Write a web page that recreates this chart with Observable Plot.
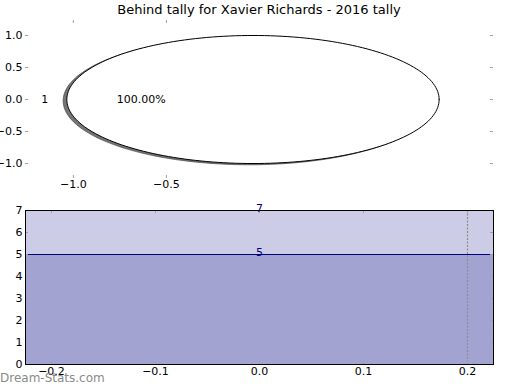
<!DOCTYPE html>
<html>
<head>
<meta charset="utf-8">
<script src="https://cdn.jsdelivr.net/npm/d3@7"></script>
<script src="https://cdn.jsdelivr.net/npm/@observablehq/plot@0.6"></script>
<style>
  body { margin: 0; background: white; }
  #wrap { position: relative; width: 520px; height: 390px; font-family: "DejaVu Sans", sans-serif; overflow: hidden; }
  #wrap svg { position: absolute; left: 0; background: transparent; }
  #title { position: absolute; left: 0; top: 2px; width: 518px; text-align: center; font-size: 13px; color: #000; z-index: 2; }
  #mark { position: absolute; left: 0; top: 371px; font-size: 12px; color: #8a8a8a; z-index: 2; }
</style>
</head>
<body>
<div id="wrap">
  <div id="title"></div>
  <div id="mark"></div>
</div>
<script>
// ---- data ----
const chartTitle = "Behind tally for Xavier Richards - 2016 tally";
const watermark = "Dream-Stats.com";
const pieLabels = ["1"];
const pieValues = [1];
const areaLabels = ["7", "5"];
const areaValues = [7, 5];
const markerX = [0.2];
const topXTicks = [-1.0, -0.5];
const topYTicks = [1.0, 0.5, 0.0, -0.5, -1.0];
const botXTicks = [-0.2, -0.1, 0.0, 0.1, 0.2];
const botYTicks = [0, 1, 2, 3, 4, 5, 6, 7];

// ---- layout constants ----
const W = 520, H = 195;
const fmt1 = d3.format(".1f");
const fmt0 = d3.format("d");
const tickCol = "#a0a0a0";
const navy = "#000080";
const pieCenter = -0.035;
const topX = [-1.257, 1.257], topY = [-1.234, 1.234];
const botX = [-0.225, 0.225], botY = [0, 7];

document.getElementById("title").textContent = chartTitle;
document.getElementById("mark").textContent = watermark;

// ---- pie geometry from values ----
const total = d3.sum(pieValues);
let start = 0;
const slices = pieValues.map((v, i) => {
  const a0 = start, a1 = start + 2 * Math.PI * v / total;
  start = a1;
  const n = 200;
  const pts = d3.range(n + 1).map(k => {
    const a = a0 + (a1 - a0) * k / n;
    return {x: pieCenter + Math.cos(a), y: Math.sin(a), s: i};
  });
  if (a1 - a0 < 2 * Math.PI - 1e-9) {
    pts.unshift({x: pieCenter, y: 0, s: i});
    pts.push({x: pieCenter, y: 0, s: i});
  }
  const mid = (a0 + a1) / 2;
  return {pts, mid, label: pieLabels[i], pct: (100 * v / total).toFixed(2) + "%"};
});
const piePts = slices.flatMap(s => s.pts);
const shadowPts = piePts.map(p => ({x: p.x - 0.02, y: p.y - 0.02, s: p.s}));
const labelData = slices.map(s => ({x: pieCenter + 1.1 * Math.cos(s.mid), y: 1.1 * Math.sin(s.mid), t: s.label}));
const pctData = slices.map(s => ({x: pieCenter + 0.6 * Math.cos(s.mid), y: 0.6 * Math.sin(s.mid), t: s.pct}));

const mTop = {marginTop: 20, marginBottom: 17, marginLeft: 25, marginRight: 27};
const fhTop = H - 20 - 17, fwTop = W - 25 - 27;

const topPlot = Plot.plot({
  width: W, height: H, ...mTop,
  style: {background: "transparent", fontFamily: "DejaVu Sans, sans-serif", fontSize: "11px", color: "#000"},
  x: {domain: topX, ticks: topXTicks, tickFormat: fmt1},
  y: {domain: topY, ticks: topYTicks, tickFormat: fmt1},
  marks: [
    Plot.line(shadowPts, {x: "x", y: "y", z: "s", fill: "#3a3a3a", fillOpacity: 0.7, stroke: "#3a3a3a", strokeOpacity: 0.6, strokeWidth: 1}),
    Plot.line(piePts, {x: "x", y: "y", z: "s", fill: "white", stroke: "black", strokeWidth: 1}),
    Plot.text(labelData, {x: "x", y: "y", text: "t", textAnchor: "end", fontSize: 11, fill: "black"}),
    Plot.text(pctData, {x: "x", y: "y", text: "t", textAnchor: "middle", fontSize: 11, fill: "black"}),
    Plot.tickX(topXTicks, {x: d => d, stroke: tickCol, insetBottom: fhTop - 3}),
    Plot.tickX(topXTicks, {x: d => d, stroke: tickCol, insetTop: fhTop - 3}),
    Plot.tickY(topYTicks, {y: d => d, stroke: tickCol, insetRight: fwTop - 3}),
    Plot.tickY(topYTicks, {y: d => d, stroke: tickCol, insetLeft: fwTop - 3}),
    Plot.axisX({ticks: topXTicks, tickFormat: fmt1, tickSize: 0, tickPadding: 2, label: null, fontSize: 11}),
    Plot.axisY({ticks: topYTicks, tickFormat: fmt1, tickSize: 0, tickPadding: 3, label: null, fontSize: 11})
  ]
});
topPlot.style.top = "0px";

const mBot = {marginTop: 15, marginBottom: 26, marginLeft: 25, marginRight: 27};
const fhBot = H - 15 - 26, fwBot = W - 25 - 27;
const areaData = areaValues.map((v, i) => ({v, t: areaLabels[i]}));

const botPlot = Plot.plot({
  width: W, height: H, ...mBot,
  style: {background: "transparent", fontFamily: "DejaVu Sans, sans-serif", fontSize: "11px", color: "#000"},
  x: {domain: botX, ticks: botXTicks, tickFormat: fmt1},
  y: {domain: botY, ticks: botYTicks, tickFormat: fmt0},
  marks: [
    Plot.rectY(areaData, {x1: botX[0], x2: botX[1], y1: 0, y2: "v", fill: navy, fillOpacity: 0.2}),
    Plot.ruleY(areaData, {y: "v", stroke: navy, strokeWidth: 1}),
    Plot.ruleX(markerX, {x: d => d, stroke: "#8c8c8c", strokeDasharray: "2,1.5", strokeWidth: 1.2}),
    Plot.tickX(botXTicks, {x: d => d, stroke: tickCol, insetBottom: fhBot - 3}),
    Plot.tickX(botXTicks, {x: d => d, stroke: tickCol, insetTop: fhBot - 3}),
    Plot.tickY(botYTicks, {y: d => d, stroke: tickCol, insetRight: fwBot - 3}),
    Plot.tickY(botYTicks, {y: d => d, stroke: tickCol, insetLeft: fwBot - 3}),
    Plot.frame({stroke: "black", strokeWidth: 1}),
    Plot.text(areaData, {x: 0, y: "v", text: "t", lineAnchor: "bottom", textAnchor: "middle", fill: navy, fontSize: 11, dy: 1}),
    Plot.axisX({ticks: botXTicks, tickFormat: fmt1, tickSize: 0, tickPadding: 3, label: null, fontSize: 11}),
    Plot.axisY({ticks: botYTicks, tickFormat: fmt0, tickSize: 0, tickPadding: 3, label: null, fontSize: 11})
  ]
});
botPlot.style.top = "195px";

const wrap = document.getElementById("wrap");
wrap.insertBefore(botPlot, wrap.firstChild);
wrap.insertBefore(topPlot, wrap.firstChild);
</script>
</body>
</html>
